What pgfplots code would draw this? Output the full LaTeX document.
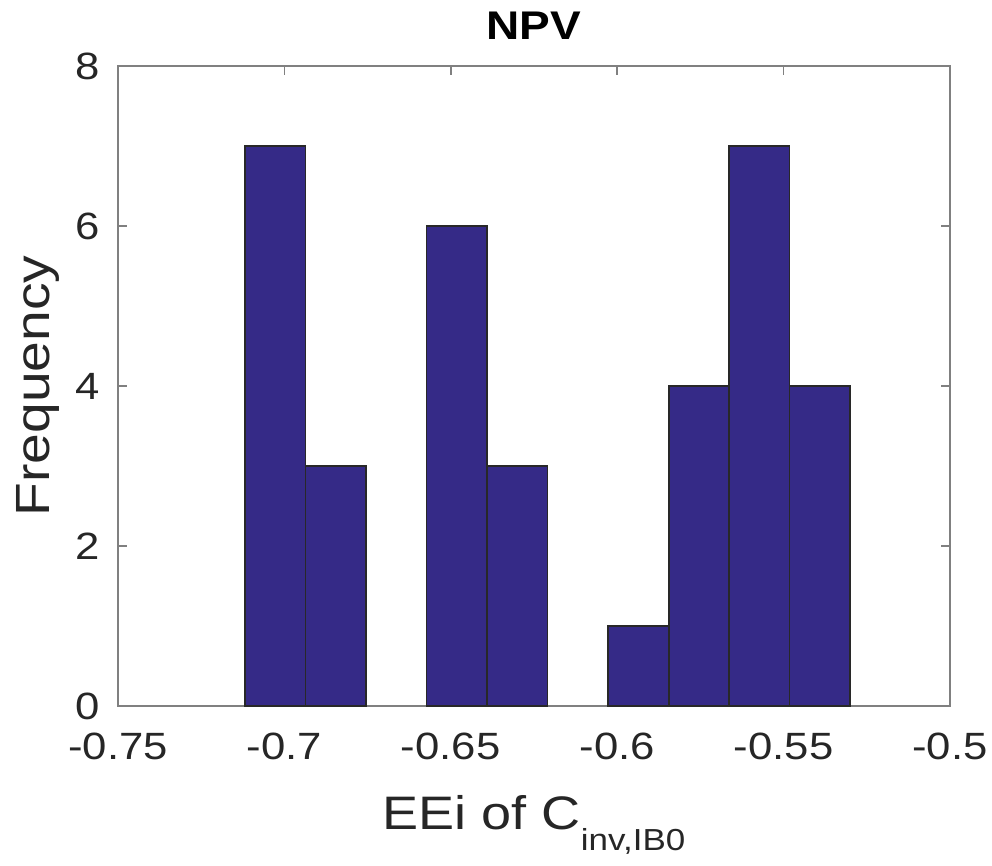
\documentclass[border=0pt]{standalone}
\usepackage{pgfplots}
\pgfplotsset{compat=1.18}
\usepackage{fontspec}
\setmainfont{Liberation Sans}[FakeStretch=1.15]
\definecolor{barfill}{rgb}{0.2081,0.1663,0.5292}
\definecolor{axgray}{RGB}{128,128,128}
\definecolor{txt}{RGB}{38,38,38}
\definecolor{edge}{RGB}{40,40,40}
\begin{document}
\begin{tikzpicture}
\begin{axis}[
  at={(0,0)}, anchor=south west,
  width=416pt, height=320pt, scale only axis,
  xmin=-0.75, xmax=-0.5, ymin=0, ymax=8,
  xtick={-0.75,-0.7,-0.65,-0.6,-0.55,-0.5},
  xticklabels={-0.75,-0.7,-0.65,-0.6,-0.55,-0.5},
  ytick={0,2,4,6,8},
  yticklabels={0,2,4,6,8},
  tick align=inside,
  major tick length=4.5pt,
  axis line style={axgray, line width=0.8pt},
  tick style={axgray, line width=0.8pt},
  tick label style={font=\fontsize{19}{22}\selectfont, text=txt},
  xticklabel style={yshift=-10pt},
  yticklabel style={xshift=-5.5pt},
  title={\textbf{NPV}},
  title style={font=\fontsize{20}{23}\selectfont, text=black, yshift=3.5pt},
  xlabel={EEi of C\raisebox{-10.5pt}{\fontsize{15.2}{18}\selectfont inv,IB0}},
  xlabel style={font=\fontsize{23.5}{26}\selectfont, text=txt, yshift=-11pt},
  ylabel={Frequency},
  ylabel style={font=\fontsize{24}{27}\selectfont, text=txt, yshift=1pt},
  clip=false,
]
\addplot[ybar interval, fill=barfill, draw=edge, line width=0.8pt] coordinates {
(-0.7118,7) (-0.6936,3) (-0.6754,3)
};
\addplot[ybar interval, fill=barfill, draw=edge, line width=0.8pt] coordinates {
(-0.6573,6) (-0.6391,3) (-0.6209,3)
};
\addplot[ybar interval, fill=barfill, draw=edge, line width=0.8pt] coordinates {
(-0.6027,1) (-0.5845,4) (-0.5664,7) (-0.5482,4) (-0.5300,4)
};
\end{axis}
\pgfresetboundingbox
\path (-59pt,-80pt) rectangle (437pt,353pt);
\end{tikzpicture}
\end{document}
